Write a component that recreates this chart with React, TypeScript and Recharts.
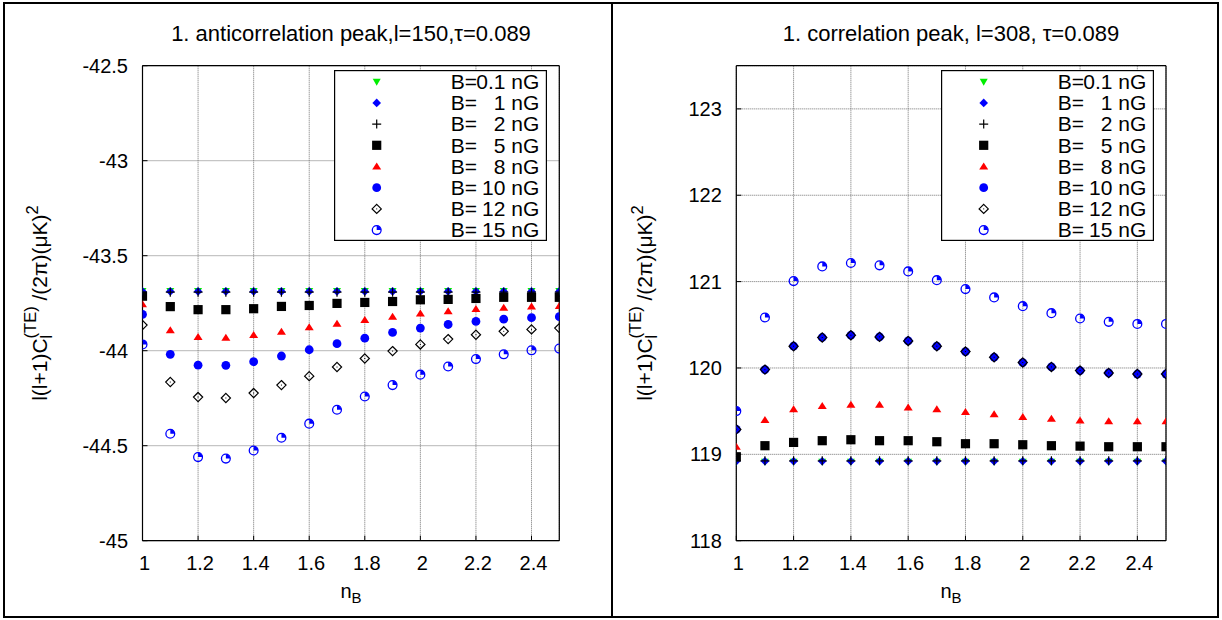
import React from 'react';
import { ScatterChart, Scatter, XAxis, YAxis, CartesianGrid, Legend } from 'recharts';

const nB = [1.0, 1.1, 1.2, 1.3, 1.4, 1.5, 1.6, 1.7, 1.8, 1.9, 2.0, 2.1, 2.2, 2.3, 2.4, 2.5];
const xTicks = [1, 1.2, 1.4, 1.6, 1.8, 2, 2.2, 2.4];
const leftYTicks = [-45, -44.5, -44, -43.5, -43, -42.5];
const rightYTicks = [118, 119, 120, 121, 122, 123];
const fieldStrengths = ['0.1', '1', '2', '5', '8', '10', '12', '15'];

const leftTitle = '1. anticorrelation peak,l=150,\u03c4=0.089';
const rightTitle = '1. correlation peak, l=308, \u03c4=0.089';
const yLabelTail = ' /(2\u03c0)(\u03bcK)';

// Left panel: anticorrelation peak l=150
const leftB01 = [-43.686, -43.686, -43.686, -43.686, -43.686, -43.686, -43.686, -43.686, -43.686, -43.686, -43.686, -43.686, -43.686, -43.686, -43.686, -43.686];
const leftB1 = [-43.688, -43.688, -43.688, -43.688, -43.688, -43.688, -43.688, -43.688, -43.688, -43.688, -43.688, -43.688, -43.688, -43.688, -43.688, -43.688];
const leftB2 = [-43.692, -43.692, -43.692, -43.692, -43.692, -43.692, -43.692, -43.692, -43.692, -43.692, -43.692, -43.692, -43.692, -43.692, -43.692, -43.692];
const leftB5 = [-43.713, -43.768, -43.784, -43.784, -43.779, -43.767, -43.762, -43.751, -43.746, -43.741, -43.732, -43.730, -43.725, -43.719, -43.719, -43.719];
const leftB8 = [-43.756, -43.893, -43.928, -43.932, -43.918, -43.900, -43.877, -43.858, -43.839, -43.821, -43.804, -43.792, -43.781, -43.774, -43.768, -43.765];
const leftB10 = [-43.809, -44.019, -44.076, -44.077, -44.058, -44.028, -43.995, -43.963, -43.934, -43.904, -43.881, -43.862, -43.846, -43.834, -43.826, -43.821];
const leftB12 = [-43.865, -44.165, -44.244, -44.249, -44.223, -44.181, -44.134, -44.086, -44.041, -44.002, -43.967, -43.939, -43.916, -43.898, -43.888, -43.881];
const leftB15 = [-43.967, -44.437, -44.560, -44.568, -44.525, -44.458, -44.384, -44.311, -44.241, -44.181, -44.126, -44.083, -44.044, -44.019, -43.998, -43.989];

// Right panel: correlation peak l=308
const rightB01 = [118.915, 118.915, 118.915, 118.915, 118.915, 118.915, 118.915, 118.915, 118.915, 118.915, 118.915, 118.915, 118.915, 118.915, 118.915, 118.915];
const rightB1 = [118.92, 118.92, 118.92, 118.92, 118.92, 118.92, 118.92, 118.92, 118.92, 118.92, 118.92, 118.92, 118.92, 118.92, 118.92, 118.92];
const rightB2 = [118.925, 118.925, 118.925, 118.925, 118.925, 118.925, 118.925, 118.925, 118.925, 118.925, 118.925, 118.925, 118.925, 118.925, 118.925, 118.925];
const rightB5 = [118.972, 119.100, 119.138, 119.158, 119.169, 119.158, 119.158, 119.146, 119.123, 119.123, 119.111, 119.100, 119.095, 119.088, 119.088, 119.088];
const rightB8 = [119.088, 119.397, 119.521, 119.559, 119.575, 119.575, 119.541, 119.521, 119.490, 119.463, 119.432, 119.413, 119.393, 119.382, 119.382, 119.382];
const rightB10 = [119.289, 119.981, 120.252, 120.353, 120.379, 120.360, 120.313, 120.252, 120.190, 120.124, 120.063, 120.012, 119.970, 119.942, 119.930, 119.930];
const rightB12 = [119.289, 119.981, 120.252, 120.353, 120.379, 120.360, 120.313, 120.252, 120.190, 120.124, 120.063, 120.012, 119.970, 119.942, 119.930, 119.930];
const rightB15 = [119.501, 120.585, 121.006, 121.176, 121.215, 121.188, 121.118, 121.017, 120.913, 120.817, 120.716, 120.635, 120.573, 120.534, 120.510, 120.510];

const leftSeries = [leftB01, leftB1, leftB2, leftB5, leftB8, leftB10, leftB12, leftB15];
const rightSeries = [rightB01, rightB1, rightB2, rightB5, rightB8, rightB10, rightB12, rightB15];

const MARKERS = [
  { kind: 'triDown', color: '#00ee00' },
  { kind: 'diamond', color: '#0000ff' },
  { kind: 'plus', color: '#000000' },
  { kind: 'square', color: '#000000' },
  { kind: 'triUp', color: '#ff0000' },
  { kind: 'circle', color: '#0000ff' },
  { kind: 'diamondOpen', color: '#000000' },
  { kind: 'pie', color: '#0000ff' },
];

const FONT = '"Liberation Sans", Arial, Helvetica, sans-serif';

function Marker({ kind, color, cx, cy }: { kind: string; color: string; cx: number; cy: number }) {
  if (cx == null || cy == null) return null;
  switch (kind) {
    case 'triDown':
      return <polygon points={`${cx - 4},${cy - 3} ${cx + 4},${cy - 3} ${cx},${cy + 4}`} fill={color} />;
    case 'diamond':
      return <polygon points={`${cx},${cy - 4.3} ${cx + 4.3},${cy} ${cx},${cy + 4.3} ${cx - 4.3},${cy}`} fill={color} />;
    case 'plus':
      return <path d={`M${cx - 4.5},${cy}H${cx + 4.5}M${cx},${cy - 4.5}V${cy + 4.5}`} stroke={color} strokeWidth={1.2} fill="none" />;
    case 'square':
      return <rect x={cx - 4.6} y={cy - 4.6} width={9.2} height={9.2} fill={color} />;
    case 'triUp':
      return <polygon points={`${cx - 4.5},${cy + 3} ${cx + 4.5},${cy + 3} ${cx},${cy - 4}`} fill={color} />;
    case 'circle':
      return <circle cx={cx} cy={cy} r={4.4} fill={color} />;
    case 'diamondOpen':
      return (
        <g>
          <polygon points={`${cx},${cy - 4.6} ${cx + 4.6},${cy} ${cx},${cy + 4.6} ${cx - 4.6},${cy}`} fill="none" stroke={color} strokeWidth={1.2} />
          <rect x={cx - 0.5} y={cy - 0.5} width={1} height={1} fill={color} />
        </g>
      );
    case 'pie':
      return (
        <g>
          <circle cx={cx} cy={cy} r={4.4} fill="none" stroke={color} strokeWidth={1.3} />
          <path d={`M${cx},${cy} L${cx},${cy - 4.4} A4.4,4.4 0 0 1 ${cx + 4.4},${cy} Z`} fill={color} />
        </g>
      );
    default:
      return null;
  }
}

function LegendBox() {
  const w = 213;
  const h = 171;
  return (
    <svg width={w} height={h} style={{ display: 'block', overflow: 'visible' }}>
      <rect x={0.6} y={0.6} width={w - 1.2} height={h - 1.2} fill="#fff" stroke="#000" strokeWidth={1.2} />
      {fieldStrengths.map((b, i) => {
        const cy = 11.7 + i * 21.2;
        return (
          <g key={b}>
            <Marker kind={MARKERS[i].kind} color={MARKERS[i].color} cx={42.7} cy={cy} />
            <text x={116.7} y={cy + 7.3} fontSize={21} fontFamily={FONT} fill="#000">B=</text>
            <text x={205.3} y={cy + 7.3} fontSize={21} fontFamily={FONT} fill="#000" textAnchor="end">{`${b} nG`}</text>
          </g>
        );
      })}
    </svg>
  );
}

const axisLine = { stroke: '#000', strokeWidth: 1.2 };
const tickLine = { stroke: '#000', strokeWidth: 1 };
const tickText = { fontSize: 20, fill: '#000', fontFamily: FONT };

function Panel({ series, yTicks, yDomain, yAxisWidth, width, rightMargin, legendLeft }: any) {
  return (
    <ScatterChart width={width} height={620} margin={{ top: 64.7, right: rightMargin, bottom: 0, left: 0 }}>
      <CartesianGrid stroke="#707070" strokeDasharray="1 1" strokeWidth={1} />
      <XAxis
        type="number"
        dataKey="x"
        domain={[1, 2.5]}
        ticks={xTicks}
        allowDataOverflow
        interval={0}
        height={79.3}
        tickSize={-5}
        tickMargin={20.3}
        axisLine={axisLine}
        tickLine={tickLine}
        tick={{ ...tickText, dx: 2 }}
        tickFormatter={(v: number) => String(v)}
      />
      <XAxis
        xAxisId="top"
        orientation="top"
        type="number"
        dataKey="x"
        domain={[1, 2.5]}
        ticks={xTicks}
        allowDataOverflow
        interval={0}
        height={1}
        tickSize={-5}
        axisLine={axisLine}
        tickLine={tickLine}
        tick={false}
      />
      <YAxis
        type="number"
        dataKey="y"
        domain={yDomain}
        ticks={yTicks}
        allowDataOverflow
        interval={0}
        width={yAxisWidth}
        tickSize={-5}
        tickMargin={19.5}
        axisLine={axisLine}
        tickLine={tickLine}
        tick={tickText}
        tickFormatter={(v: number) => String(v)}
      />
      <YAxis
        yAxisId="right"
        orientation="right"
        type="number"
        dataKey="y"
        domain={yDomain}
        ticks={yTicks}
        allowDataOverflow
        interval={0}
        width={1}
        tickSize={-5}
        axisLine={axisLine}
        tickLine={tickLine}
        tick={false}
      />
      {series.map((vals: number[], i: number) => (
        <Scatter
          key={i}
          name={`B=${fieldStrengths[i]} nG`}
          data={nB.map((x, j) => ({ x, y: vals[j] }))}
          isAnimationActive={false}
          shape={(p: any) => <Marker kind={MARKERS[i].kind} color={MARKERS[i].color} cx={p.cx} cy={p.cy} />}
        />
      ))}
      <Legend
        layout="vertical"
        align="center"
        verticalAlign="middle"
        wrapperStyle={{ left: legendLeft, top: 70, width: 213, height: 171 }}
        content={() => <LegendBox />}
      />
    </ScatterChart>
  );
}

function YLabel({ x, y }: { x: number; y: number }) {
  return (
    <text x={x} y={y} transform={`rotate(-90, ${x}, ${y})`} textAnchor="middle" fontSize={21} fontFamily={FONT} fill="#000">
      {'l(l+1)C'}
      <tspan fontSize={16.5} dy={5}>l</tspan>
      <tspan fontSize={16.5} dx={-3.7} dy={-16}>(TE)</tspan>
      <tspan fontSize={21} dy={11}>{yLabelTail}</tspan>
      <tspan fontSize={16.5} dy={-9}>2</tspan>
    </text>
  );
}

function XLabel({ x, y }: { x: number; y: number }) {
  return (
    <text x={x} y={y} textAnchor="middle" fontSize={20} fontFamily={FONT} fill="#000">
      n<tspan fontSize={15} dy={5}>B</tspan>
    </text>
  );
}

export default function App() {
  return (
    <div style={{ position: 'absolute', left: 0, top: 0, width: 1222, height: 620, background: '#fff', fontFamily: FONT }}>
      <div style={{ position: 'absolute', left: 0, top: 0 }}>
        <Panel series={leftSeries} yTicks={leftYTicks} yDomain={[-45, -42.5]} yAxisWidth={142.5} width={612} rightMargin={51.7} legendLeft={334} />
      </div>
      <div style={{ position: 'absolute', left: 612, top: 0 }}>
        <Panel series={rightSeries} yTicks={rightYTicks} yDomain={[118, 123.5]} yAxisWidth={124.3} width={610} rightMargin={55} legendLeft={328.7} />
      </div>
      <svg width={1222} height={620} style={{ position: 'absolute', left: 0, top: 0, pointerEvents: 'none' }}>
        <text x={351} y={41} textAnchor="middle" fontSize={22} fontFamily={FONT} fill="#000">{leftTitle}</text>
        <text x={951} y={41} textAnchor="middle" fontSize={22} fontFamily={FONT} fill="#000">{rightTitle}</text>
        <XLabel x={351} y={598} />
        <XLabel x={951} y={598} />
        <YLabel x={47} y={303} />
        <YLabel x={652} y={303} />
        <rect x={4} y={3} width={1214} height={614} fill="none" stroke="#000" strokeWidth={2} />
        <line x1={612} y1={3} x2={612} y2={617} stroke="#000" strokeWidth={2} />
      </svg>
    </div>
  );
}
